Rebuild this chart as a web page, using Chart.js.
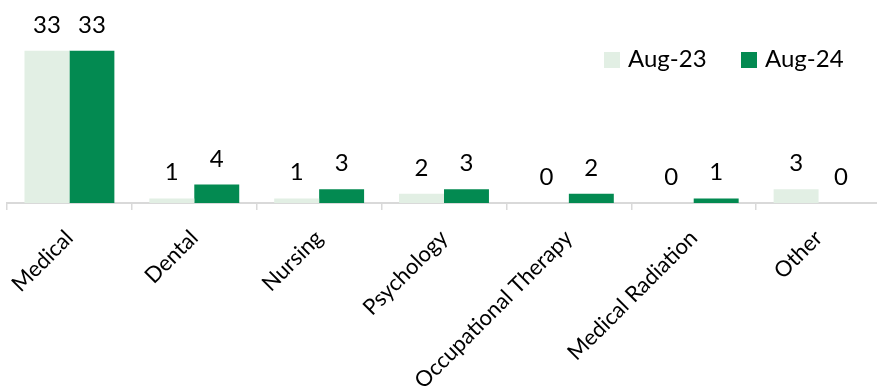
<!DOCTYPE html>
<html>
<head>
<meta charset="utf-8">
<script src="https://cdn.jsdelivr.net/npm/chart.js@4"></script>
<style>
  html, body { margin: 0; padding: 0; background: #fff; overflow: hidden; }
  #wrap { position: relative; width: 881px; height: 390px; }
  #legend { position: absolute; left: 604px; top: 44px; font: 24px Lato, sans-serif; color: #000; }
  #legend span.item { position: absolute; white-space: nowrap; line-height: 28px; }
  #legend i { display: inline-block; width: 16px; height: 16px; margin-right: 8px; vertical-align: -1px; }
</style>
</head>
<body>
<div id="wrap">
  <canvas id="chart"></canvas>
  <div id="legend"></div>
</div>
<script>
// DATA
const categories = ["Medical", "Dental", "Nursing", "Psychology", "Occupational Therapy", "Medical Radiation", "Other"];
const aug23 = [33, 1, 1, 2, 0, 0, 3];
const aug24 = [33, 4, 3, 3, 2, 1, 0];
const seriesNames = ["Aug-23", "Aug-24"];
const colors = ["#e2efe4", "#038a51"];

// LEGEND (html, top right)
const legend = document.getElementById("legend");
seriesNames.forEach((name, i) => {
  let item = document.createElement("span");
  item.className = "item";
  item.style.left = (i * 137) + "px";
  item.innerHTML = '<i style="background:' + colors[i] + '"></i>' + name;
  legend.appendChild(item);
});

// VALUE LABELS above bars
const valueLabels = {
  id: "valueLabels",
  afterDatasetsDraw(chart) {
    let ctx = chart.ctx;
    ctx.save();
    ctx.font = "24px Lato";
    ctx.fillStyle = "#000";
    ctx.textAlign = "center";
    ctx.textBaseline = "alphabetic";
    chart.data.datasets.forEach((ds, i) => {
      chart.getDatasetMeta(i).data.forEach((bar, j) => {
        ctx.fillText(ds.data[j], bar.x, bar.y - 18);
      });
    });
    ctx.restore();
  }
};

// CHART
let ctx = document.getElementById("chart").getContext("2d");
let chart = new Chart(ctx, {
  type: "bar",
  data: {
    labels: categories,
    datasets: [
      { label: seriesNames[0], data: aug23, backgroundColor: colors[0], categoryPercentage: 0.72, barPercentage: 1 },
      { label: seriesNames[1], data: aug24, backgroundColor: colors[1], categoryPercentage: 0.72, barPercentage: 1 }
    ]
  },
  options: {
    responsive: true,
    maintainAspectRatio: false,
    animation: false,
    layout: { padding: { left: 7, right: 0, top: 0, bottom: 0 } },
    plugins: { legend: { display: false }, tooltip: { enabled: false } },
    scales: {
      y: { display: false, min: 0, max: 44 },
      x: {
        afterFit(scale) { scale.height = 187; },
        border: { color: "#d9d9d9", width: 2 },
        grid: { display: true, drawOnChartArea: false, color: "#d9d9d9", lineWidth: 1.5, tickLength: 7, offset: true },
        ticks: {
          maxRotation: 45, minRotation: 45, autoSkip: false, padding: 15,
          color: "#000", font: { family: "Lato", size: 22 }
        }
      }
    }
  },
  plugins: [valueLabels]
});
</script>
</body>
</html>
